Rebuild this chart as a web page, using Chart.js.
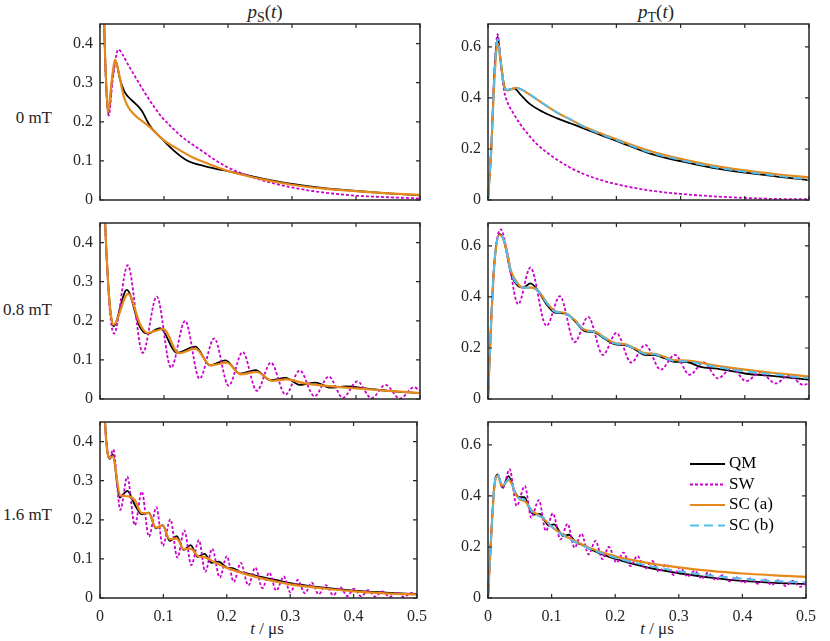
<!DOCTYPE html>
<html>
<head>
<meta charset="utf-8">
<script src="https://cdn.jsdelivr.net/npm/chart.js@4.4.1/dist/chart.umd.min.js"></script>
<style>
  body { margin: 0; background: #fff; }
  #fig { position: relative; width: 830px; height: 641px; overflow: hidden;
         font-family: "Liberation Serif", "DejaVu Serif", serif; color: #262626; }
  #fig canvas { position: absolute; }
  .lbl { position: absolute; white-space: nowrap; }
  .ttl { font-size: 19px; text-align: center; width: 200px; line-height: 24px; }
  .ttl sub { font-size: 14px; vertical-align: -4px; line-height: 0; }
  .row { font-size: 17px; text-align: right; width: 80px; line-height: 20px; }
  .xl { font-size: 17px; text-align: center; width: 120px; line-height: 20px; }
</style>
</head>
<body>
<div id="fig">
  <div class="lbl ttl" style="left:165px;top:0px;"><i>p</i><sub>S</sub>(<i>t</i>)</div>
  <div class="lbl ttl" style="left:556px;top:0px;"><i>p</i><sub>T</sub>(<i>t</i>)</div>
  <div class="lbl row" style="left:-28px;top:108px;">0 mT</div>
  <div class="lbl row" style="left:-28px;top:300px;">0.8 mT</div>
  <div class="lbl row" style="left:-28px;top:505px;">1.6 mT</div>
  <div class="lbl xl" style="left:207px;top:619px;"><i>t</i> / μs</div>
  <div class="lbl xl" style="left:597px;top:619px;"><i>t</i> / μs</div>
</div>
<script>
// tick labels
const xTicks = [0, 0.1, 0.2, 0.3, 0.4, 0.5];
const yTicksS = [0, 0.1, 0.2, 0.3, 0.4];
const yTicksT = [0, 0.2, 0.4, 0.6];
const seriesNames = ['QM', 'SW', 'SC (a)', 'SC (b)'];

// [t / us, p]

// p_S, 0 mT
const S0_QM = [[0,1.0],[0.004,0.62],[0.007,0.42],[0.010,0.28],[0.013,0.221],[0.019,0.31],[0.0246,0.355],[0.031,0.31],[0.038,0.278],[0.044,0.264],[0.055,0.247],[0.065,0.229],[0.078,0.19],[0.099,0.153],[0.115,0.127],[0.136,0.101],[0.162,0.087],[0.183,0.079],[0.2,0.074],[0.25,0.056],[0.3,0.041],[0.35,0.030],[0.4,0.023],[0.45,0.017],[0.5,0.012]];
const S0_SW = [[0,1.0],[0.004,0.62],[0.007,0.42],[0.010,0.28],[0.0136,0.216],[0.020,0.31],[0.0287,0.385],[0.036,0.37],[0.044,0.346],[0.055,0.315],[0.0705,0.273],[0.085,0.237],[0.0966,0.212],[0.112,0.186],[0.125,0.166],[0.14,0.147],[0.157,0.128],[0.18,0.102],[0.2,0.083],[0.225,0.066],[0.25,0.052],[0.3,0.032],[0.35,0.019],[0.4,0.011],[0.45,0.007],[0.5,0.004]];
const S0_SCa = [[0,1.0],[0.004,0.62],[0.007,0.42],[0.010,0.29],[0.013,0.225],[0.018,0.30],[0.0235,0.359],[0.030,0.32],[0.0366,0.268],[0.044,0.238],[0.055,0.216],[0.065,0.203],[0.076,0.189],[0.085,0.175],[0.099,0.154],[0.12,0.132],[0.146,0.108],[0.172,0.091],[0.2,0.074],[0.25,0.054],[0.3,0.039],[0.35,0.029],[0.4,0.0225],[0.45,0.017],[0.5,0.013]];

// p_T, 0 mT
const T0_QM = [[0,0],[0.005,0.2],[0.01,0.5],[0.015,0.64],[0.02,0.54],[0.025,0.45],[0.029,0.431],[0.035,0.435],[0.041,0.438],[0.051,0.412],[0.064,0.379],[0.085,0.346],[0.108,0.32],[0.129,0.30],[0.15,0.28],[0.175,0.255],[0.2,0.232],[0.25,0.184],[0.3,0.152],[0.35,0.126],[0.4,0.107],[0.45,0.092],[0.5,0.078]];
const T0_SW = [[0,0],[0.005,0.2],[0.01,0.5],[0.015,0.65],[0.02,0.53],[0.025,0.43],[0.03,0.385],[0.04,0.338],[0.05,0.298],[0.06,0.265],[0.075,0.222],[0.1,0.171],[0.125,0.131],[0.15,0.101],[0.175,0.079],[0.2,0.062],[0.25,0.038],[0.3,0.024],[0.35,0.0145],[0.4,0.008],[0.45,0.004],[0.5,0.003]];
const T0_SCa = [[0,0],[0.005,0.19],[0.01,0.47],[0.015,0.615],[0.02,0.54],[0.025,0.445],[0.03,0.43],[0.036,0.433],[0.0436,0.44],[0.052,0.433],[0.062,0.418],[0.085,0.379],[0.108,0.342],[0.129,0.315],[0.15,0.287],[0.175,0.262],[0.2,0.238],[0.25,0.194],[0.3,0.161],[0.35,0.135],[0.4,0.116],[0.45,0.101],[0.5,0.089]];
const T0_SCb = [[0,0],[0.005,0.2],[0.01,0.49],[0.015,0.63],[0.02,0.54],[0.025,0.445],[0.03,0.432],[0.036,0.435],[0.0436,0.441],[0.052,0.434],[0.062,0.419],[0.085,0.38],[0.108,0.342],[0.129,0.315],[0.15,0.286],[0.175,0.259],[0.2,0.235],[0.25,0.188],[0.3,0.157],[0.35,0.13],[0.4,0.111],[0.45,0.095],[0.5,0.08]];

// p_S, 0.8 mT
const S08_QM = [[0,1.0],[0.004,0.66],[0.008,0.45],[0.013,0.29],[0.017,0.215],[0.021,0.186],[0.042,0.279],[0.062,0.185],[0.074,0.167],[0.094,0.181],[0.12,0.118],[0.149,0.134],[0.172,0.086],[0.196,0.099],[0.219,0.065],[0.243,0.074],[0.266,0.048],[0.29,0.054],[0.313,0.036],[0.337,0.042],[0.36,0.029],[0.384,0.032],[0.42,0.026],[0.45,0.021],[0.5,0.015]];
const S08_SW = [[0,1.0],[0.004,0.66],[0.008,0.45],[0.013,0.28],[0.017,0.2],[0.0219,0.167],[0.0433,0.342],[0.0668,0.118],[0.0887,0.262],[0.111,0.080],[0.133,0.200],[0.1555,0.052],[0.1785,0.155],[0.201,0.034],[0.223,0.120],[0.245,0.021],[0.267,0.093],[0.29,0.011],[0.312,0.073],[0.335,0.007],[0.3575,0.0575],[0.3794,0.003],[0.402,0.045],[0.4243,0.002],[0.446,0.036],[0.4687,0.001],[0.4906,0.030],[0.5,0.021]];
const S08_SCa = [[0,1.0],[0.004,0.66],[0.008,0.45],[0.013,0.29],[0.017,0.215],[0.021,0.19],[0.044,0.269],[0.063,0.19],[0.074,0.169],[0.099,0.179],[0.123,0.117],[0.149,0.129],[0.173,0.086],[0.198,0.093],[0.22,0.063],[0.245,0.069],[0.269,0.0465],[0.292,0.05],[0.32,0.04],[0.35,0.034],[0.4,0.027],[0.45,0.021],[0.5,0.015]];

// p_T, 0.8 mT
const T08_QM = [[0,0],[0.005,0.31],[0.01,0.535],[0.018,0.646],[0.025,0.62],[0.036,0.489],[0.047,0.443],[0.055,0.437],[0.066,0.453],[0.078,0.424],[0.091,0.372],[0.104,0.339],[0.122,0.335],[0.135,0.306],[0.15,0.267],[0.166,0.261],[0.182,0.235],[0.197,0.215],[0.213,0.211],[0.228,0.196],[0.244,0.173],[0.26,0.172],[0.275,0.16],[0.29,0.146],[0.31,0.145],[0.331,0.126],[0.357,0.119],[0.4,0.10],[0.45,0.089],[0.5,0.076]];
const T08_SW = [[0,0],[0.005,0.31],[0.01,0.54],[0.02,0.665],[0.03,0.575],[0.047,0.372],[0.066,0.515],[0.091,0.287],[0.112,0.403],[0.135,0.223],[0.156,0.322],[0.179,0.173],[0.2,0.259],[0.223,0.143],[0.245,0.212],[0.269,0.115],[0.291,0.173],[0.314,0.095],[0.336,0.143],[0.358,0.081],[0.38,0.121],[0.402,0.070],[0.424,0.104],[0.448,0.061],[0.468,0.091],[0.492,0.055],[0.5,0.063]];
const T08_SCa = [[0,0],[0.005,0.30],[0.01,0.53],[0.018,0.643],[0.025,0.62],[0.036,0.50],[0.047,0.45],[0.055,0.437],[0.068,0.437],[0.078,0.425],[0.091,0.38],[0.104,0.345],[0.12,0.337],[0.135,0.31],[0.15,0.272],[0.166,0.265],[0.182,0.24],[0.197,0.22],[0.213,0.215],[0.228,0.2],[0.244,0.18],[0.26,0.177],[0.275,0.165],[0.29,0.152],[0.31,0.151],[0.35,0.133],[0.4,0.115],[0.45,0.101],[0.5,0.088]];
const T08_SCb = [[0,0],[0.005,0.31],[0.01,0.535],[0.018,0.645],[0.025,0.62],[0.036,0.495],[0.047,0.447],[0.055,0.436],[0.068,0.436],[0.078,0.424],[0.091,0.378],[0.104,0.343],[0.12,0.336],[0.135,0.308],[0.15,0.27],[0.166,0.263],[0.182,0.238],[0.197,0.218],[0.213,0.213],[0.228,0.198],[0.244,0.177],[0.26,0.175],[0.275,0.162],[0.29,0.149],[0.31,0.147],[0.35,0.128],[0.4,0.109],[0.45,0.095],[0.5,0.081]];

// p_S, 1.6 mT
const S16_QM = [[0,1.0],[0.004,0.66],[0.008,0.45],[0.012,0.37],[0.0157,0.356],[0.02,0.368],[0.031,0.257],[0.043,0.274],[0.055,0.238],[0.066,0.214],[0.077,0.218],[0.088,0.178],[0.099,0.186],[0.11,0.146],[0.121,0.158],[0.132,0.123],[0.143,0.135],[0.154,0.105],[0.165,0.113],[0.176,0.090],[0.187,0.093],[0.2,0.078],[0.21,0.076],[0.222,0.066],[0.232,0.063],[0.25,0.055],[0.275,0.047],[0.3,0.038],[0.35,0.027],[0.4,0.019],[0.45,0.014],[0.5,0.010]];
const S16_SW = [[0,1.0],[0.004,0.66],[0.008,0.45],[0.012,0.375],[0.015,0.36],[0.021,0.38],[0.032,0.225],[0.043,0.31],[0.055,0.186],[0.066,0.272],[0.077,0.157],[0.089,0.232],[0.099,0.133],[0.111,0.201],[0.122,0.103],[0.133,0.173],[0.144,0.084],[0.156,0.148],[0.166,0.067],[0.177,0.126],[0.189,0.052],[0.2,0.107],[0.211,0.041],[0.222,0.09],[0.234,0.032],[0.245,0.078],[0.256,0.025],[0.267,0.065],[0.278,0.019],[0.29,0.055],[0.3,0.015],[0.312,0.046],[0.323,0.012],[0.334,0.039],[0.345,0.0094],[0.356,0.033],[0.368,0.007],[0.379,0.028],[0.39,0.005],[0.401,0.024],[0.412,0.004],[0.423,0.020],[0.434,0.0034],[0.445,0.017],[0.457,0.0026],[0.468,0.0145],[0.479,0.0026],[0.491,0.013],[0.5,0.008]];
const S16_SCa = [[0,1.0],[0.004,0.66],[0.008,0.45],[0.012,0.37],[0.0157,0.358],[0.02,0.362],[0.032,0.262],[0.045,0.26],[0.055,0.25],[0.066,0.217],[0.077,0.217],[0.088,0.18],[0.099,0.185],[0.11,0.15],[0.121,0.152],[0.132,0.125],[0.143,0.126],[0.155,0.107],[0.166,0.104],[0.18,0.092],[0.2,0.077],[0.25,0.052],[0.3,0.035],[0.35,0.025],[0.4,0.017],[0.45,0.012],[0.5,0.009]];

// p_T, 1.6 mT
const T16_QM = [[0,0],[0.005,0.243],[0.01,0.44],[0.015,0.485],[0.023,0.433],[0.032,0.478],[0.043,0.412],[0.05,0.395],[0.057,0.395],[0.067,0.34],[0.073,0.327],[0.081,0.33],[0.09,0.3],[0.095,0.284],[0.104,0.289],[0.113,0.258],[0.118,0.243],[0.127,0.248],[0.138,0.218],[0.15,0.207],[0.16,0.192],[0.18,0.171],[0.2,0.153],[0.25,0.12],[0.3,0.097],[0.35,0.08],[0.4,0.067],[0.45,0.059],[0.5,0.055]];
const T16_SW = [[0,0],[0.005,0.245],[0.01,0.44],[0.015,0.485],[0.023,0.43],[0.034,0.505],[0.045,0.361],[0.058,0.439],[0.068,0.315],[0.08,0.384],[0.091,0.263],[0.102,0.332],[0.114,0.23],[0.125,0.291],[0.136,0.197],[0.147,0.252],[0.158,0.171],[0.169,0.224],[0.18,0.152],[0.19,0.2],[0.202,0.139],[0.213,0.178],[0.224,0.125],[0.235,0.165],[0.247,0.115],[0.258,0.145],[0.269,0.103],[0.28,0.132],[0.292,0.09],[0.302,0.119],[0.314,0.084],[0.325,0.107],[0.336,0.076],[0.346,0.099],[0.358,0.071],[0.369,0.09],[0.38,0.065],[0.39,0.082],[0.402,0.06],[0.413,0.077],[0.424,0.056],[0.435,0.073],[0.446,0.051],[0.457,0.071],[0.468,0.047],[0.479,0.067],[0.491,0.044],[0.5,0.058]];
const T16_SCa = [[0,0],[0.005,0.24],[0.01,0.435],[0.015,0.48],[0.022,0.44],[0.033,0.462],[0.045,0.40],[0.052,0.385],[0.058,0.38],[0.07,0.34],[0.08,0.325],[0.09,0.305],[0.1,0.28],[0.12,0.245],[0.14,0.22],[0.16,0.196],[0.2,0.163],[0.25,0.138],[0.3,0.12],[0.35,0.106],[0.4,0.096],[0.45,0.089],[0.5,0.083]];
const T16_SCb = [[0,0],[0.005,0.245],[0.01,0.44],[0.015,0.487],[0.022,0.44],[0.033,0.466],[0.045,0.40],[0.052,0.388],[0.058,0.385],[0.07,0.335],[0.08,0.322],[0.09,0.31],[0.1,0.28],[0.12,0.243],[0.14,0.215],[0.16,0.193],[0.2,0.158],[0.25,0.128],[0.3,0.105],[0.35,0.088],[0.4,0.076],[0.45,0.067],[0.5,0.061]];

const FONT = '"Liberation Serif", "DejaVu Serif", serif';

// line look per series; lower order is drawn on top
const styles = {
  'QM':     { color: '#000000', width: 1.8, dash: [],     order: 4 },
  'SW':     { color: '#CC00CC', width: 1.8, dash: [3, 2], order: 3 },
  'SC (a)': { color: '#E6891A', width: 2.2, dash: [],     order: 2 },
  'SC (b)': { color: '#55BDEB', width: 2.0, dash: [9, 5], order: 1 }
};

// box with inward ticks on all four sides, plus the inset legend
const framePlugin = {
  id: 'frame',
  afterDatasetsDraw(chart, args, opts) {
    const { ctx, chartArea: a, scales: { x, y } } = chart;
    ctx.save();
    ctx.strokeStyle = '#262626';
    ctx.lineWidth = 1.2;
    ctx.beginPath();
    opts.xTicks.forEach(v => {
      const px = x.getPixelForValue(v);
      ctx.moveTo(px, a.bottom); ctx.lineTo(px, a.bottom - 4);
      ctx.moveTo(px, a.top); ctx.lineTo(px, a.top + 4);
    });
    opts.yTicks.forEach(v => {
      const py = y.getPixelForValue(v);
      ctx.moveTo(a.left, py); ctx.lineTo(a.left + 4, py);
      ctx.moveTo(a.right, py); ctx.lineTo(a.right - 4, py);
    });
    ctx.stroke();
    ctx.lineWidth = 1.5;
    ctx.strokeRect(a.left, a.top, a.right - a.left, a.bottom - a.top);

    if (opts.legend) {
      ctx.font = '17px ' + FONT;
      ctx.textBaseline = 'middle';
      ctx.fillStyle = '#000';
      chart.data.datasets.forEach((ds, i) => {
        const ly = a.top + 42 + i * 20.5;
        ctx.beginPath();
        ctx.strokeStyle = ds.borderColor;
        ctx.lineWidth = ds.borderWidth;
        ctx.setLineDash(ds.borderDash);
        ctx.moveTo(a.left + 202, ly);
        ctx.lineTo(a.left + 237, ly);
        ctx.stroke();
        ctx.setLineDash([]);
        ctx.fillText(ds.label, a.left + 241, ly);
      });
    }
    ctx.restore();
  }
};

const PAD_T = 20, PAD_R = 16, Y_W = 50, PLOT_H = 176;
const colLeft = [100, 488], colWidth = [320, 321];
const rowTop = [24, 223, 422];

function fmt(v) { return v === 0 ? '0' : v.toFixed(1); }

function makePanel(col, row, sets, yMax, yTicks, legend) {
  const bottomH = row === 2 ? 40 : 20;
  const cv = document.createElement('canvas');
  cv.width = Y_W + colWidth[col] + PAD_R;
  cv.height = PAD_T + PLOT_H + bottomH;
  cv.style.left = (colLeft[col] - Y_W) + 'px';
  cv.style.top = (rowTop[row] - PAD_T) + 'px';
  document.getElementById('fig').appendChild(cv);

  const datasets = sets.map(([name, pts]) => {
    const st = styles[name];
    return {
      label: name,
      data: pts.map(p => ({ x: p[0], y: p[1] })),
      borderColor: st.color,
      borderWidth: st.width,
      borderDash: st.dash,
      order: st.order,
      pointRadius: 0,
      fill: false,
      cubicInterpolationMode: 'monotone',
      clip: { left: 1, right: 1, top: 0, bottom: 2 }
    };
  });

  return new Chart(cv, {
    type: 'line',
    data: { datasets },
    options: {
      responsive: false,
      animation: false,
      events: [],
      layout: { padding: { top: PAD_T, right: PAD_R, left: 0, bottom: 0 } },
      plugins: {
        legend: { display: false },
        tooltip: { enabled: false },
        frame: { xTicks, yTicks, legend }
      },
      scales: {
        x: {
          type: 'linear', min: 0, max: 0.5,
          grid: { display: false, drawTicks: false },
          border: { display: false },
          afterBuildTicks: s => { s.ticks = xTicks.map(v => ({ value: v })); },
          afterFit: s => { s.height = bottomH; },
          ticks: { display: row === 2, padding: 9, maxRotation: 0, autoSkip: false,
                   color: '#262626', font: { family: FONT, size: 16 }, callback: fmt }
        },
        y: {
          type: 'linear', min: 0, max: yMax,
          grid: { display: false, drawTicks: false },
          border: { display: false },
          afterBuildTicks: s => { s.ticks = yTicks.map(v => ({ value: v })); },
          afterFit: s => { s.width = Y_W; },
          ticks: { padding: 7, autoSkip: false,
                   color: '#262626', font: { family: FONT, size: 16 }, callback: fmt }
        }
      }
    },
    plugins: [framePlugin]
  });
}

makePanel(0, 0, [['QM', S0_QM], ['SW', S0_SW], ['SC (a)', S0_SCa]], 0.45, yTicksS, false);
makePanel(1, 0, [['QM', T0_QM], ['SW', T0_SW], ['SC (a)', T0_SCa], ['SC (b)', T0_SCb]], 0.69, yTicksT, false);
makePanel(0, 1, [['QM', S08_QM], ['SW', S08_SW], ['SC (a)', S08_SCa]], 0.45, yTicksS, false);
makePanel(1, 1, [['QM', T08_QM], ['SW', T08_SW], ['SC (a)', T08_SCa], ['SC (b)', T08_SCb]], 0.69, yTicksT, false);
makePanel(0, 2, [['QM', S16_QM], ['SW', S16_SW], ['SC (a)', S16_SCa]], 0.45, yTicksS, false);
makePanel(1, 2, [['QM', T16_QM], ['SW', T16_SW], ['SC (a)', T16_SCa], ['SC (b)', T16_SCb]], 0.69, yTicksT, true);
</script>
</body>
</html>
